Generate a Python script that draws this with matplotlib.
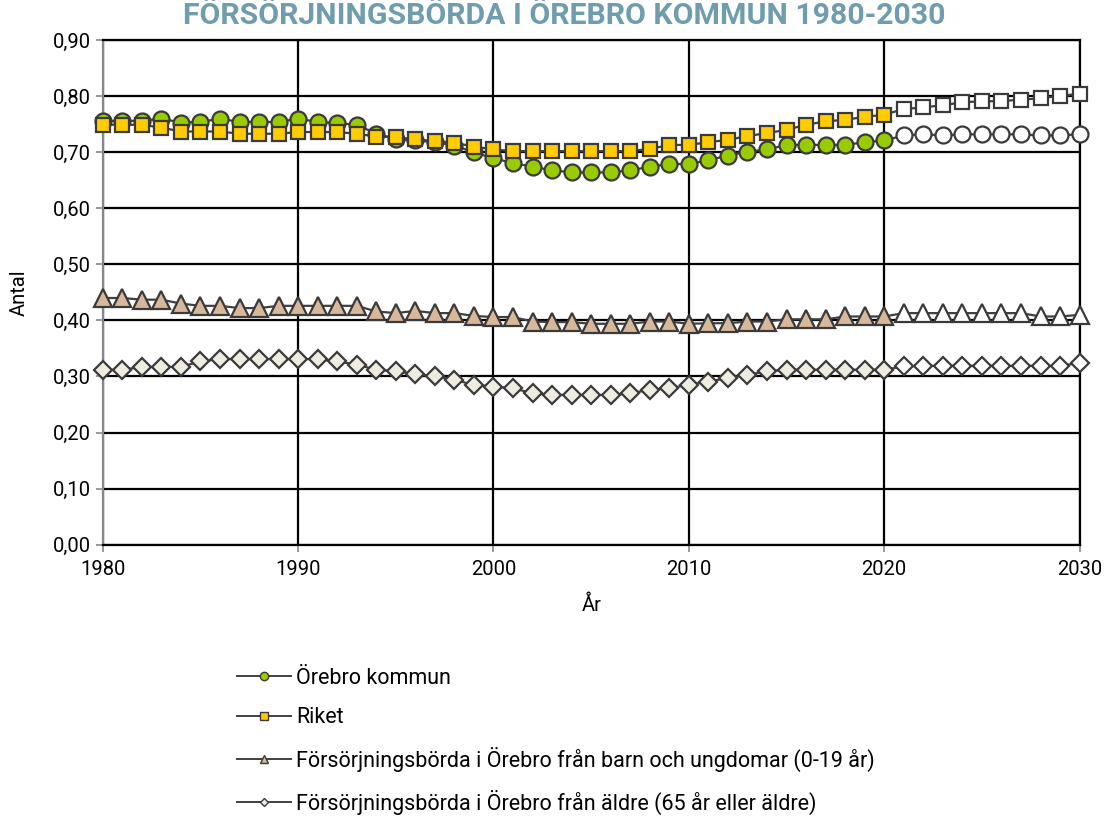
import numpy as np
import matplotlib
matplotlib.use("Agg")
import matplotlib.pyplot as plt
from matplotlib.lines import Line2D

years = list(range(1980, 2031))
last_hist = 2020

orebro = [0.756, 0.756, 0.756, 0.760, 0.753, 0.754, 0.760, 0.754, 0.754, 0.754,
          0.760, 0.754, 0.752, 0.749, 0.733, 0.724, 0.721, 0.718, 0.712, 0.700,
          0.689, 0.681, 0.674, 0.668, 0.664, 0.664, 0.664, 0.668, 0.674, 0.679,
          0.679, 0.686, 0.694, 0.701, 0.705, 0.713, 0.713, 0.713, 0.713, 0.718,
          0.721, 0.730, 0.732, 0.730, 0.732, 0.732, 0.732, 0.732, 0.730, 0.730,
          0.732]
riket = [0.749, 0.749, 0.749, 0.744, 0.737, 0.737, 0.737, 0.733, 0.733, 0.733,
         0.736, 0.736, 0.736, 0.733, 0.728, 0.727, 0.723, 0.720, 0.717, 0.710,
         0.705, 0.702, 0.702, 0.702, 0.702, 0.702, 0.702, 0.702, 0.706, 0.713,
         0.713, 0.718, 0.722, 0.729, 0.734, 0.740, 0.749, 0.755, 0.758, 0.763,
         0.767, 0.777, 0.780, 0.784, 0.789, 0.791, 0.791, 0.794, 0.796, 0.801,
         0.804]
barn = [0.440, 0.440, 0.437, 0.437, 0.430, 0.426, 0.426, 0.422, 0.422, 0.426,
        0.426, 0.426, 0.426, 0.426, 0.416, 0.413, 0.417, 0.413, 0.413, 0.408,
        0.406, 0.406, 0.398, 0.397, 0.397, 0.394, 0.394, 0.394, 0.398, 0.398,
        0.394, 0.395, 0.395, 0.398, 0.398, 0.402, 0.402, 0.402, 0.407, 0.407,
        0.407, 0.413, 0.413, 0.413, 0.413, 0.413, 0.413, 0.413, 0.407, 0.407,
        0.410]
aldre = [0.312, 0.312, 0.317, 0.317, 0.317, 0.327, 0.331, 0.331, 0.331, 0.331,
         0.331, 0.331, 0.327, 0.321, 0.312, 0.309, 0.305, 0.300, 0.294, 0.285,
         0.282, 0.279, 0.270, 0.267, 0.267, 0.267, 0.267, 0.270, 0.276, 0.279,
         0.285, 0.291, 0.297, 0.303, 0.309, 0.312, 0.312, 0.312, 0.312, 0.312,
         0.312, 0.318, 0.319, 0.319, 0.319, 0.319, 0.319, 0.319, 0.319, 0.319,
         0.324]

labels = ["Örebro kommun", "Riket",
          "Försörjningsbörda i Örebro från barn och ungdomar (0-19 år)",
          "Försörjningsbörda i Örebro från äldre (65 år eller äldre)"]
series = [orebro, riket, barn, aldre]
markers = ["o", "s", "^", "D"]
sizes = [11.5, 10.5, 12.5, 9.5]
leg_sizes = [6, 6, 6, 4.5]
fills = ["#99CC00", "#FFCC00", "#D8B89A", "#EEEBE0"]

plt.rcParams["font.family"] = ["Roboto", "DejaVu Sans"]

fig = plt.figure(figsize=(11.05, 8.19), dpi=100)
ax = fig.add_axes([0.093, 0.335, 0.884, 0.616])

x = np.array(years)
hist = x <= last_hist
edge = "#3A3A3A"
for vals, m, s, fc in zip(series, markers, sizes, fills):
    v = np.array(vals)
    ax.plot(x, v, color="#404040", lw=1.6, zorder=3)
    ax.plot(x[hist], v[hist], ls="none", marker=m, ms=s, mfc=fc, mec=edge,
            mew=1.6, zorder=4, clip_on=False)
    ax.plot(x[~hist], v[~hist], ls="none", marker=m, ms=s, mfc="white", mec=edge,
            mew=1.6, zorder=4, clip_on=False)

ax.set_xlim(1980, 2030)
ax.set_ylim(0, 0.9)
ax.set_xticks(range(1980, 2031, 10))
ax.set_yticks(np.arange(0, 0.91, 0.1))
ax.set_yticklabels([f"{t:.2f}".replace(".", ",") for t in np.arange(0, 0.91, 0.1)])
ax.grid(True, color="black", lw=1.6, zorder=1)
ax.set_axisbelow(True)
for side in ["top", "right", "bottom"]:
    ax.spines[side].set_color("black")
    ax.spines[side].set_linewidth(1.6)
ax.spines["left"].set_color("#888888")
ax.spines["left"].set_linewidth(1.6)
ax.tick_params(axis="both", labelsize=14.5, color="#888888", length=5, width=1.2)
ax.tick_params(axis="x", pad=6)
ax.set_xlabel("År", fontsize=14.5, labelpad=12)
ax.set_ylabel("Antal", fontsize=14.5, labelpad=17)

fig.suptitle("FÖRSÖRJNINGSBÖRDA I ÖREBRO KOMMUN 1980-2030", x=0.511, y=0.998,
             fontsize=21.8, fontweight="bold", color="#6F9DAE")

handles = [Line2D([], [], color="#404040", lw=1.4, marker=m, ms=ls_, mfc=fc,
                  mec=edge, mew=1.0)
           for m, ls_, fc in zip(markers, leg_sizes, fills)]
fig.legend(handles, labels, loc="upper left", bbox_to_anchor=(0.197, 0.208),
           frameon=False, fontsize=15.5, handlelength=2.5, labelspacing=0.85,
           handletextpad=0.25)

fig.savefig("out.png", dpi=100)
